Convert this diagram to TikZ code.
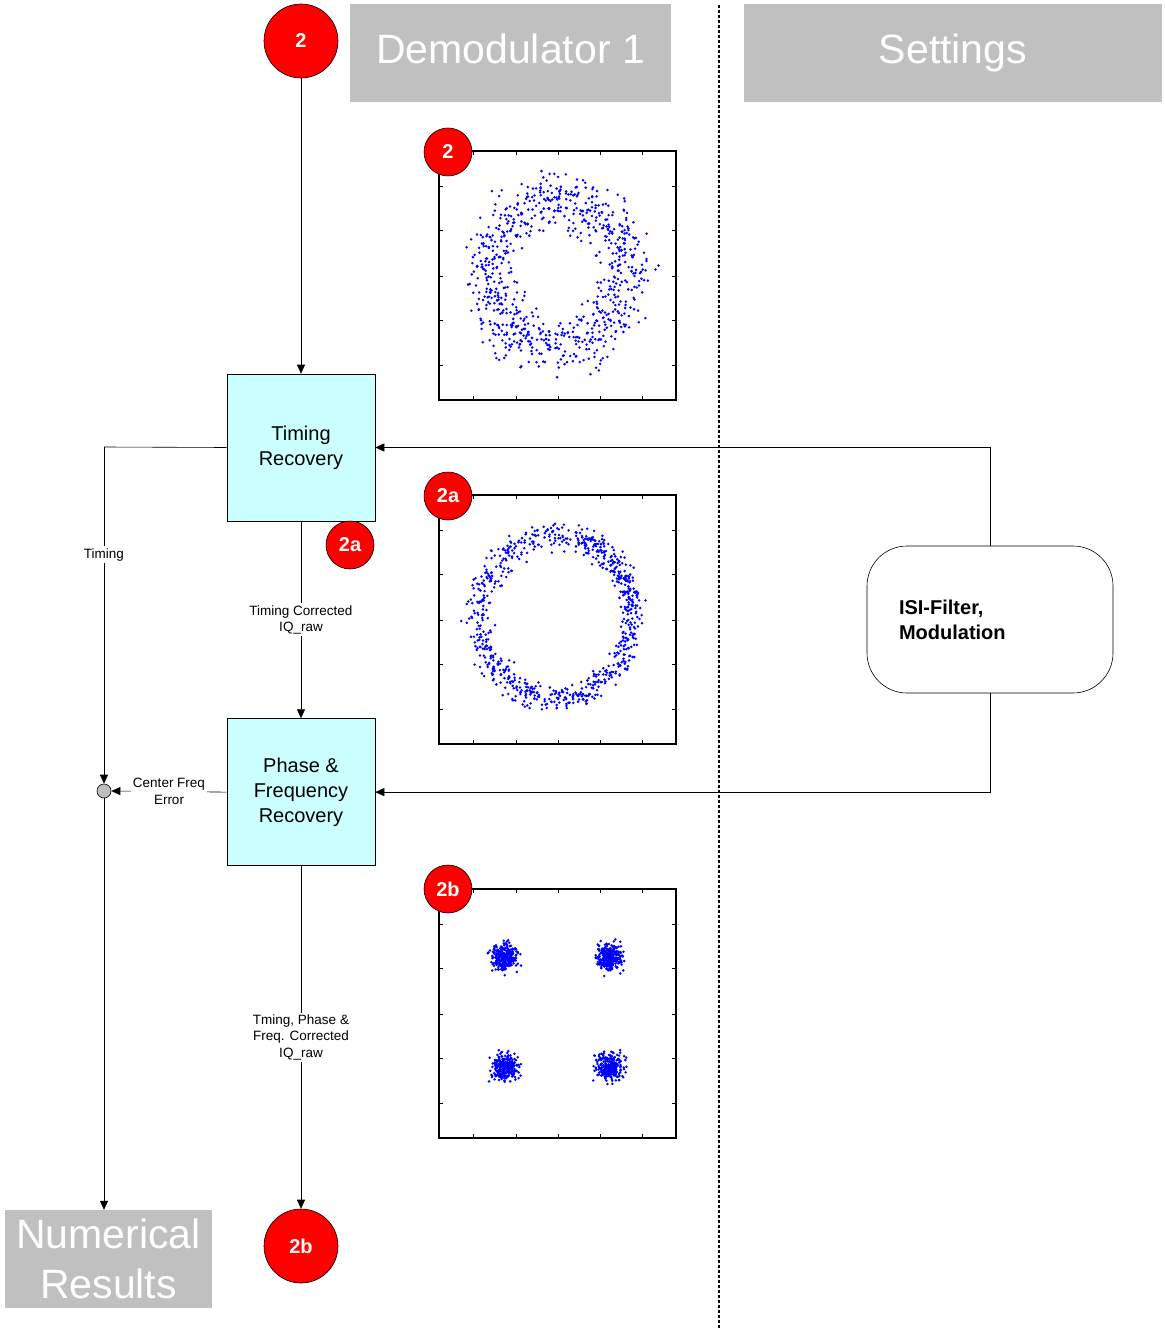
\documentclass[tikz,border=0pt]{standalone}
\usepackage{fontspec}
\setmainfont{Liberation Sans}
\usetikzlibrary{positioning, arrows.meta, calc}
\definecolor{hdrgray}{RGB}{192,192,192}
\definecolor{boxcyan}{RGB}{204,255,255}
\definecolor{markred}{RGB}{255,0,0}
\definecolor{dotblue}{RGB}{0,0,255}
\definecolor{sumgray}{RGB}{190,190,190}
\tikzset{
  hdrbox/.style={
    rectangle, fill=hdrgray, text=white,
    minimum height=98pt, inner sep=0pt,
    font=\fontsize{41}{50}\selectfont
  },
  hdrbox-two/.style={hdrbox, align=center},
  procbox/.style={
    rectangle, draw=black, line width=0.6pt,
    fill=boxcyan,
    minimum width=148pt, minimum height=147pt,
    align=center, font=\fontsize{20}{25}\selectfont, inner sep=2pt
  },
  setbox/.style={
    rectangle, rounded corners=40pt,
    draw=black, line width=0.6pt, fill=white,
    minimum width=246pt, minimum height=147pt,
    text width=182pt, align=left,
    font=\fontsize{20}{25}\selectfont\bfseries
  },
  bigmark/.style={
    circle, draw=black, line width=0.6pt, fill=markred, text=white,
    minimum size=74pt, inner sep=0pt,
    font=\fontsize{20}{24}\selectfont\bfseries
  },
  smallmark/.style={bigmark, minimum size=48pt},
  sumdot/.style={
    circle, draw=black, line width=0.6pt, fill=sumgray,
    minimum size=14pt, inner sep=0pt
  },
  sigarrow/.style={
    -{Triangle[length=9pt, width=8pt]}, draw=black, line width=0.6pt
  },
  sigline/.style={draw=black, line width=0.6pt},
  siglabel/.style={
    fill=white, inner sep=2pt, align=center,
    font=\fontsize{13.5}{16.5}\selectfont
  },
  plotframe/.style={draw=black, line width=1.1pt},
  plotdot/.style={fill=dotblue}
}

\begin{document}
\begin{tikzpicture}[x=1pt, y=-1pt, node distance=197pt]
  \useasboundingbox (0,0) rectangle (1164,1329);
  \pgfmathsetseed{4711}

  % lane split
  \draw[line width=1.2pt, dash pattern=on 3pt off 2pt] (719,5) -- (719,1329);

  % headers
  \node[hdrbox, minimum width=321pt, text height=30pt, text depth=8pt] (demod) at (510.5,53) {Demodulator 1};
  \node[hdrbox, minimum width=418pt, text height=30pt, text depth=8pt] (settings) at (953,53) {Settings};
  \node[hdrbox-two, minimum width=207pt] (numres) at (108.5,1259) {Numerical\\Results};

  % blocks
  \node[bigmark] (in2) at (301,41) {2};
  \node[procbox] (timrec) at (301,447.5) {Timing\\Recovery};
  \node[procbox, below=of timrec] (phfrec) {Phase \&\\Frequency\\Recovery};
  \node[bigmark] (out2b) at (301,1246) {2b};
  \node[setbox] (isimod) at (990,619.5) {ISI-Filter,\\Modulation};
  \node[sumdot] (sumpt) at (104,791) {};
  \coordinate (tcorner) at (104,447);

  % connectors
  \draw[sigarrow] (in2) -- (timrec);
  \draw[sigarrow] (timrec) -- node[siglabel] {Timing Corrected\\IQ\_raw} (phfrec);
  \draw[sigarrow] (phfrec) -- node[siglabel] {Tming, Phase \&\\Freq. Corrected\\IQ\_raw} (out2b);
  \draw[sigarrow] (isimod.north) |- (timrec.east);
  \draw[sigarrow] (isimod.south) |- (phfrec.east);
  \draw[sigline] (timrec.west) -- (tcorner);
  \draw[sigarrow] (tcorner) -- node[pos=0.32, siglabel] {Timing} (sumpt.north);
  \draw[sigarrow] (phfrec.west) -- node[siglabel] {Center Freq\\Error} (sumpt.east);
  \draw[sigarrow] (sumpt.south) -- (sumpt.south |- numres.north);

  % scatter plot frames
  \foreach \top in {151, 495, 889} {
    \draw[plotframe] (439,\top) rectangle (676,\top+249);
    \foreach \dx in {34, 77, 119, 161, 203} {
      \draw[line width=0.8pt] (439+\dx,\top+249) -- ++(0,-4);
      \draw[line width=0.8pt] (439+\dx,\top) -- ++(0,4);
    }
    \foreach \dy in {35, 79, 125, 169, 214} {
      \draw[line width=0.8pt] (439,\top+\dy) -- ++(4,0);
      \draw[line width=0.8pt] (676,\top+\dy) -- ++(-4,0);
    }
  }

  % raw IQ
  \foreach \i in {1,...,800} {
    \pgfmathsetmacro\ang{360*rnd}
    \pgfmathsetmacro\rad{70+13*(rand+rand+rand)}
    \fill[plotdot] ({556+\rad*cos(\ang)}, {275+1.05*\rad*sin(\ang)}) circle (1.4);
  }
  % timing corrected
  \foreach \i in {1,...,800} {
    \pgfmathsetmacro\ang{360*rnd}
    \pgfmathsetmacro\rad{77+6.5*(rand+rand+rand)}
    \fill[plotdot] ({556+\rad*cos(\ang)}, {617+1.07*\rad*sin(\ang)}) circle (1.4);
  }
  % fully corrected
  \foreach \cx/\cy in {505/957, 609/957, 505/1067, 610/1067} {
    \foreach \i in {1,...,280} {
      \fill[plotdot] ({\cx+6.5*(rand+rand+rand)}, {\cy+6.5*(rand+rand+rand)}) circle (1.4);
    }
  }

  % markers
  \node[smallmark] (mk2) at (448,152) {2};
  \node[smallmark] (mk2a) at (448,496) {2a};
  \node[smallmark] (mk2b) at (448,889) {2b};
  \node[smallmark] (mk2at) at (350,545) {2a};
\end{tikzpicture}
\end{document}
